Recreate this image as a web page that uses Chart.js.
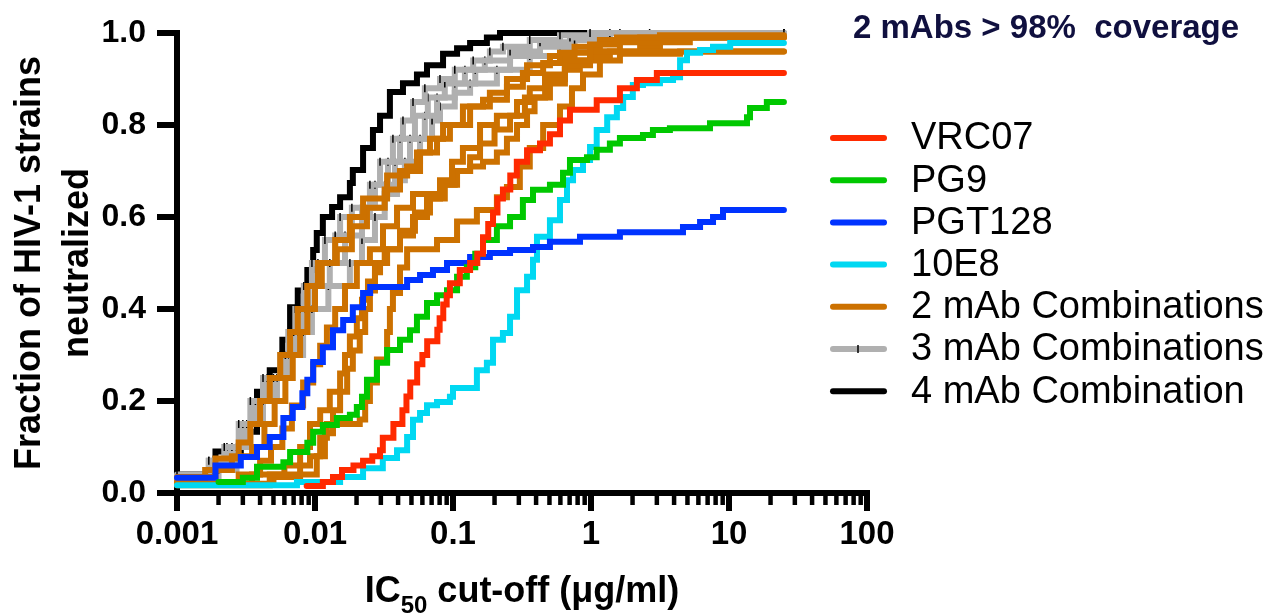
<!DOCTYPE html>
<html>
<head>
<meta charset="utf-8">
<script src="https://cdn.jsdelivr.net/npm/chart.js@4/dist/chart.umd.min.js"></script>
<style>
  html, body { margin: 0; padding: 0; background: #fff; }
</style>
</head>
<body>
<canvas id="chart" width="1270" height="613"></canvas>
<script>
// --- datos: [IC50 cut-off (ug/ml), fraccion neutralizada] ---
const vrc07 = [[0.0087,0.015],[0.0114,0.024],[0.0135,0.035],[0.0157,0.05],[0.019,0.06],[0.0223,0.07],[0.026,0.08],[0.0296,0.093],[0.031,0.12],[0.037,0.15],[0.043,0.18],[0.046,0.21],[0.049,0.24],[0.055,0.28],[0.06,0.3],[0.065,0.33],[0.077,0.355],[0.08,0.38],[0.085,0.41],[0.09,0.43],[0.095,0.456],[0.112,0.485],[0.133,0.5],[0.15,0.52],[0.165,0.556],[0.18,0.585],[0.195,0.61],[0.21,0.64],[0.23,0.66],[0.26,0.69],[0.29,0.72],[0.344,0.745],[0.427,0.76],[0.504,0.78],[0.596,0.81],[0.704,0.833],[1.1,0.854],[1.62,0.88],[2.15,0.898],[3.0,0.913],[25,0.913]];
const pg9 = [[0.002,0.024],[0.003,0.033],[0.0038,0.057],[0.0059,0.067],[0.0066,0.089],[0.0088,0.109],[0.0097,0.133],[0.0114,0.148],[0.0144,0.163],[0.0179,0.17],[0.0201,0.187],[0.0219,0.209],[0.0238,0.246],[0.0281,0.283],[0.0333,0.311],[0.0413,0.333],[0.0488,0.354],[0.0548,0.383],[0.0648,0.413],[0.0766,0.43],[0.0905,0.441],[0.107,0.47],[0.126,0.491],[0.145,0.52],[0.165,0.55],[0.208,0.58],[0.259,0.6],[0.321,0.637],[0.38,0.659],[0.504,0.67],[0.627,0.696],[0.704,0.724],[0.935,0.73],[1.1,0.746],[1.37,0.76],[1.62,0.772],[2.38,0.778],[2.81,0.789],[3.73,0.793],[7.28,0.804],[13.5,0.817],[14.2,0.837],[18.8,0.85],[25,0.85]];
const pgt128 = [[0.001,0.033],[0.0019,0.06],[0.0029,0.078],[0.0038,0.1],[0.0047,0.122],[0.0059,0.163],[0.0069,0.187],[0.0081,0.217],[0.0088,0.246],[0.0097,0.285],[0.0114,0.317],[0.0135,0.354],[0.016,0.376],[0.0188,0.404],[0.0223,0.435],[0.0251,0.448],[0.0465,0.463],[0.0577,0.474],[0.0716,0.485],[0.0905,0.5],[0.133,0.513],[0.185,0.522],[0.259,0.528],[0.38,0.535],[0.504,0.546],[0.832,0.557],[1.62,0.567],[4.64,0.578],[6.17,0.589],[7.66,0.6],[9.05,0.615],[25,0.615]];
const mab10E8 = [[0.001,0.017],[0.0074,0.024],[0.0152,0.035],[0.0223,0.054],[0.031,0.076],[0.0393,0.093],[0.0465,0.122],[0.0513,0.159],[0.0577,0.174],[0.0648,0.191],[0.0766,0.198],[0.095,0.209],[0.1,0.228],[0.149,0.267],[0.176,0.283],[0.195,0.333],[0.23,0.348],[0.259,0.383],[0.291,0.441],[0.344,0.47],[0.38,0.507],[0.406,0.557],[0.504,0.593],[0.596,0.637],[0.67,0.68],[0.741,0.702],[0.875,0.724],[0.984,0.752],[1.1,0.789],[1.31,0.817],[1.54,0.837],[1.71,0.861],[2.01,0.887],[2.38,0.891],[3.16,0.898],[3.93,0.904],[4.42,0.941],[4.96,0.957],[6.17,0.963],[7.66,0.97],[10.2,0.978],[25,0.978]];

// combinaciones de 2 mAbs
const combo2a = [[0.001,0.035],[0.0019,0.075],[0.0028,0.11],[0.0034,0.15],[0.004,0.2],[0.0047,0.25],[0.0056,0.3],[0.0066,0.35],[0.0075,0.4],[0.0088,0.45],[0.0105,0.5],[0.014,0.55],[0.0179,0.6],[0.0223,0.64],[0.0333,0.69],[0.0465,0.71],[0.0548,0.74],[0.0681,0.77],[0.0847,0.8],[0.118,0.84],[0.165,0.855],[0.246,0.883],[0.321,0.913],[0.45,0.935],[0.596,0.957],[0.984,0.975],[1.54,0.99],[3.16,0.995],[25,0.995]];
const combo2b = [[0.001,0.025],[0.0016,0.05],[0.0025,0.08],[0.0035,0.1],[0.0043,0.15],[0.0051,0.2],[0.0061,0.25],[0.0069,0.3],[0.0078,0.35],[0.0088,0.4],[0.01,0.45],[0.0112,0.5],[0.0144,0.53],[0.0185,0.58],[0.0238,0.62],[0.032,0.66],[0.0413,0.7],[0.0577,0.74],[0.0766,0.77],[0.095,0.8],[0.133,0.84],[0.185,0.87],[0.246,0.9],[0.344,0.93],[0.504,0.95],[0.76,0.97],[1.16,0.985],[2.27,0.99],[25,0.99]];
const combo2c = [[0.001,0.02],[0.0028,0.04],[0.004,0.07],[0.0048,0.1],[0.0058,0.14],[0.0068,0.19],[0.0082,0.24],[0.0097,0.28],[0.0109,0.32],[0.0122,0.36],[0.014,0.4],[0.0165,0.45],[0.0201,0.5],[0.025,0.53],[0.0311,0.58],[0.0393,0.62],[0.0513,0.65],[0.0805,0.68],[0.0984,0.72],[0.118,0.75],[0.157,0.8],[0.208,0.82],[0.291,0.85],[0.36,0.88],[0.465,0.91],[0.647,0.94],[0.984,0.96],[1.62,0.98],[3.16,0.99],[25,0.99]];
const combo2d = [[0.001,0.017],[0.0047,0.04],[0.0103,0.08],[0.0118,0.13],[0.0135,0.18],[0.0152,0.22],[0.0171,0.27],[0.0188,0.31],[0.0211,0.35],[0.0231,0.4],[0.025,0.44],[0.0272,0.48],[0.0296,0.5],[0.0333,0.53],[0.0413,0.56],[0.0513,0.6],[0.0648,0.64],[0.0805,0.67],[0.103,0.7],[0.133,0.73],[0.157,0.76],[0.2,0.79],[0.259,0.82],[0.332,0.86],[0.465,0.9],[0.647,0.93],[0.984,0.95],[1.37,0.96],[25,0.96]];
const combo2e = [[0.001,0.02],[0.005,0.035],[0.0078,0.06],[0.0092,0.08],[0.0109,0.12],[0.0122,0.15],[0.0211,0.16],[0.0231,0.2],[0.025,0.24],[0.0281,0.29],[0.0333,0.35],[0.0349,0.4],[0.0367,0.435],[0.0413,0.49],[0.0465,0.53],[0.0766,0.55],[0.107,0.59],[0.149,0.615],[0.208,0.643],[0.246,0.665],[0.305,0.71],[0.36,0.75],[0.45,0.8],[0.596,0.84],[0.728,0.88],[0.875,0.91],[1.16,0.94],[1.62,0.955],[4.42,0.96],[25,0.96]];
const combo2f = [[0.001,0.02],[0.0035,0.04],[0.006,0.06],[0.0078,0.1],[0.0092,0.15],[0.0109,0.18],[0.0128,0.22],[0.0152,0.26],[0.0165,0.3],[0.0179,0.34],[0.0201,0.38],[0.0219,0.42],[0.0242,0.46],[0.0272,0.5],[0.032,0.53],[0.0413,0.57],[0.053,0.61],[0.0681,0.64],[0.0872,0.67],[0.107,0.7],[0.133,0.71],[0.165,0.72],[0.208,0.74],[0.246,0.77],[0.291,0.8],[0.344,0.83],[0.39,0.86],[0.504,0.89],[0.647,0.92],[0.83,0.94],[1.16,0.96],[2.27,0.97],[3.16,0.98],[5.2,0.99],[25,0.99]];

// combinaciones de 3 mAbs
const combo3a = [[0.001,0.04],[0.0017,0.07],[0.0022,0.1],[0.0028,0.15],[0.0034,0.2],[0.0042,0.25],[0.0056,0.3],[0.0064,0.35],[0.0072,0.4],[0.0083,0.45],[0.0095,0.5],[0.0118,0.55],[0.0152,0.6],[0.025,0.67],[0.0296,0.72],[0.0367,0.77],[0.0434,0.81],[0.0513,0.85],[0.0625,0.88],[0.0805,0.9],[0.103,0.92],[0.14,0.94],[0.185,0.96],[0.23,0.97],[0.36,0.985],[0.596,0.995],[0.984,1.0],[25,1.0]];
const combo3b = [[0.001,0.035],[0.0017,0.07],[0.0023,0.1],[0.003,0.15],[0.0037,0.2],[0.0045,0.25],[0.0061,0.3],[0.007,0.35],[0.0078,0.4],[0.009,0.45],[0.0105,0.5],[0.014,0.56],[0.0185,0.62],[0.0272,0.67],[0.0338,0.72],[0.0413,0.77],[0.053,0.82],[0.0657,0.86],[0.0872,0.89],[0.122,0.92],[0.17,0.94],[0.259,0.96],[0.427,0.98],[0.704,0.99],[1.37,1.0],[25,1.0]];
const combo3c = [[0.001,0.03],[0.0019,0.06],[0.0025,0.1],[0.0032,0.15],[0.004,0.2],[0.005,0.25],[0.0064,0.3],[0.0075,0.35],[0.0085,0.4],[0.01,0.45],[0.0128,0.5],[0.0165,0.56],[0.0219,0.62],[0.032,0.67],[0.038,0.72],[0.0488,0.77],[0.0625,0.82],[0.0766,0.86],[0.103,0.89],[0.145,0.92],[0.259,0.95],[0.427,0.97],[0.76,0.985],[1.62,1.0],[25,1.0]];
const combo3d = [[0.001,0.025],[0.002,0.05],[0.0027,0.1],[0.0034,0.15],[0.0042,0.2],[0.0053,0.25],[0.0068,0.3],[0.0082,0.35],[0.0095,0.4],[0.0125,0.45],[0.0179,0.5],[0.0219,0.55],[0.0272,0.6],[0.032,0.65],[0.0393,0.68],[0.0448,0.72],[0.0577,0.77],[0.0705,0.81],[0.0805,0.84],[0.103,0.87],[0.133,0.89],[0.208,0.92],[0.36,0.95],[0.596,0.963],[0.984,0.98],[1.62,0.99],[2.66,1.0],[25,1.0]];

// combinacion de 4 mAbs
const combo4 = [[0.001,0.04],[0.0019,0.09],[0.0029,0.133],[0.0038,0.22],[0.0047,0.267],[0.0058,0.333],[0.0066,0.404],[0.0075,0.44],[0.0088,0.485],[0.0097,0.528],[0.0103,0.565],[0.0114,0.6],[0.0133,0.622],[0.0152,0.643],[0.0179,0.674],[0.0188,0.702],[0.0223,0.75],[0.0263,0.789],[0.0296,0.82],[0.0349,0.872],[0.0434,0.891],[0.0548,0.91],[0.0648,0.93],[0.0847,0.955],[0.107,0.967],[0.133,0.978],[0.176,0.99],[0.219,1.0],[25,1.0]];

// ejes y leyenda
const xTickValues = [0.001, 0.01, 0.1, 1, 10, 100];
const xTickLabels = ['0.001', '0.01', '0.1', '1', '10', '100'];
const yTickValues = [0, 0.2, 0.4, 0.6, 0.8, 1.0];
const legendLabels = ['VRC07', 'PG9', 'PGT128', '10E8', '2 mAb Combinations', '3 mAb Combinations', '4 mAb Combination'];
const legendColors = ['#ff2a00', '#00c800', '#0033ff', '#00d8f2', '#cc7100', '#b0b0b0', '#000000'];

const FONT = '"Liberation Sans", Arial, Helvetica, sans-serif';

function toXY(pairs) {
    return pairs.map(p => ({ x: p[0], y: p[1] }));
}

function stepLine(label, pairs, color, extra) {
    return Object.assign({
        label: label,
        data: toXY(pairs),
        borderColor: color,
        backgroundColor: color,
        borderWidth: 6,
        borderCapStyle: 'round',
        borderJoinStyle: 'miter',
        stepped: true,
        fill: false,
        pointRadius: 0,
        pointHoverRadius: 0,
        clip: false
    }, extra || {});
}

// marcas negras sobre las curvas de 3 mAbs
const grayMarks = {
    pointRadius: 4,
    pointStyle: 'line',
    rotation: 90,
    pointBorderColor: '#000',
    pointBorderWidth: 1.5
};

// el primer dataset queda dibujado encima
const datasets = [
    stepLine('VRC07', vrc07, legendColors[0]),
    stepLine('PG9', pg9, legendColors[1]),
    stepLine('PGT128', pgt128, legendColors[2]),
    stepLine('10E8', mab10E8, legendColors[3]),
    stepLine('2 mAb Combinations', combo2a, legendColors[4]),
    stepLine('2 mAb Combinations', combo2b, legendColors[4]),
    stepLine('2 mAb Combinations', combo2c, legendColors[4]),
    stepLine('2 mAb Combinations', combo2d, legendColors[4]),
    stepLine('2 mAb Combinations', combo2e, legendColors[4]),
    stepLine('2 mAb Combinations', combo2f, legendColors[4]),
    stepLine('3 mAb Combinations', combo3a, legendColors[5], grayMarks),
    stepLine('3 mAb Combinations', combo3b, legendColors[5], grayMarks),
    stepLine('3 mAb Combinations', combo3c, legendColors[5], grayMarks),
    stepLine('3 mAb Combinations', combo3d, legendColors[5], grayMarks),
    stepLine('4 mAb Combination', combo4, legendColors[6])
];

// Ejes estilo GraphPad: lineas gruesas, ticks hacia fuera, menores en escala log.
const axesPlugin = {
    id: 'prismAxes',
    beforeDatasetsDraw(chart) {
        const ctx = chart.ctx;
        const xs = chart.scales.x, ys = chart.scales.y;
        const x0 = xs.left, yb = ys.bottom;
        ctx.save();
        ctx.strokeStyle = '#000';
        ctx.lineCap = 'butt';

        ctx.lineWidth = 6;
        ctx.beginPath();
        ctx.moveTo(x0, ys.top - 3);
        ctx.lineTo(x0, yb + 18);
        ctx.moveTo(x0 - 3, yb);
        ctx.lineTo(xs.right + 3, yb);
        ctx.stroke();

        yTickValues.forEach(v => {
            const py = ys.getPixelForValue(v);
            ctx.beginPath();
            ctx.moveTo(x0 - 20, py);
            ctx.lineTo(x0, py);
            ctx.stroke();
        });

        xTickValues.forEach((d, i) => {
            const px = xs.getPixelForValue(d);
            ctx.lineWidth = 6;
            ctx.beginPath();
            ctx.moveTo(px, yb);
            ctx.lineTo(px, yb + 18);
            ctx.stroke();
            if (i === xTickValues.length - 1) return;
            ctx.lineWidth = 4.5;
            for (let k = 2; k <= 9; k++) {
                const mx = xs.getPixelForValue(d * k);
                ctx.beginPath();
                ctx.moveTo(mx, yb);
                ctx.lineTo(mx, yb + 12);
                ctx.stroke();
            }
        });
        ctx.restore();
    },
    afterDraw(chart) {
        const ctx = chart.ctx;
        const xs = chart.scales.x;
        ctx.save();

        // titulo eje x con subindice
        const big = 'bold 36px ' + FONT, small = 'bold 24px ' + FONT;
        const parts = [['IC', big, 0], ['50', small, 11], [' cut-off (\u03BCg/ml)', big, 0]];
        let total = 0;
        parts.forEach(p => { ctx.font = p[1]; total += ctx.measureText(p[0]).width; });
        let tx = (xs.left + xs.right) / 2 - total / 2;
        ctx.fillStyle = '#000';
        ctx.textBaseline = 'alphabetic';
        ctx.textAlign = 'left';
        parts.forEach(p => {
            ctx.font = p[1];
            ctx.fillText(p[0], tx, 602 + p[2]);
            tx += ctx.measureText(p[0]).width;
        });

        // anotacion arriba a la derecha
        ctx.font = 'bold 33px ' + FONT;
        ctx.fillStyle = '#10103f';
        ctx.fillText('2 mAbs > 98%  coverage', 853, 38);

        // leyenda
        ctx.font = '38px ' + FONT;
        ctx.textBaseline = 'middle';
        legendLabels.forEach((lab, i) => {
            const ly = 138 + i * 42.2;
            ctx.strokeStyle = legendColors[i];
            ctx.lineWidth = 6;
            ctx.lineCap = 'round';
            ctx.beginPath();
            ctx.moveTo(833, ly);
            ctx.lineTo(884, ly);
            ctx.stroke();
            if (i === 5) {
                ctx.strokeStyle = '#000';
                ctx.lineWidth = 1.5;
                ctx.lineCap = 'butt';
                ctx.beginPath();
                ctx.moveTo(858, ly - 4);
                ctx.lineTo(858, ly + 4);
                ctx.stroke();
            }
            ctx.fillStyle = '#000';
            ctx.fillText(lab, 911, ly + 1);
        });
        ctx.restore();
    }
};

const ctx = document.getElementById('chart').getContext('2d');
new Chart(ctx, {
    type: 'line',
    data: { datasets: datasets },
    options: {
        responsive: false,
        animation: false,
        events: [],
        layout: { padding: { top: 33, right: 403, left: 0, bottom: 0 } },
        plugins: {
            legend: { display: false },
            tooltip: { enabled: false }
        },
        scales: {
            x: {
                type: 'logarithmic',
                min: 0.001,
                max: 100,
                grid: { display: false },
                border: { display: false },
                afterBuildTicks: scale => {
                    scale.ticks = xTickValues.map(v => ({ value: v }));
                },
                afterFit: scale => {
                    // fija el alto para que el area del grafico coincida con la figura
                    scale.height = 120;
                    scale.paddingLeft = 0;
                    scale.paddingRight = 0;
                },
                ticks: {
                    autoSkip: false,
                    maxRotation: 0,
                    padding: 14,
                    color: '#000',
                    font: { family: FONT, size: 33, weight: 'bold' },
                    callback: function(value) {
                        const i = xTickValues.findIndex(v => Math.abs(Math.log10(v) - Math.log10(value)) < 1e-6);
                        return i >= 0 ? xTickLabels[i] : '';
                    }
                }
            },
            y: {
                min: 0,
                max: 1,
                grid: { display: false },
                border: { display: false },
                afterFit: scale => {
                    scale.width = 177;
                    scale.paddingTop = 0;
                    scale.paddingBottom = 0;
                },
                ticks: {
                    stepSize: 0.2,
                    padding: 23,
                    color: '#000',
                    font: { family: FONT, size: 32, weight: 'bold' },
                    callback: v => Number(v).toFixed(1)
                },
                title: {
                    display: true,
                    text: ['Fraction of HIV-1 strains', 'neutralized'],
                    color: '#000',
                    padding: { top: 6, bottom: 0 },
                    font: { family: FONT, size: 36, weight: 'bold', lineHeight: 1.33 }
                }
            }
        }
    },
    plugins: [axesPlugin]
});
</script>
</body>
</html>
